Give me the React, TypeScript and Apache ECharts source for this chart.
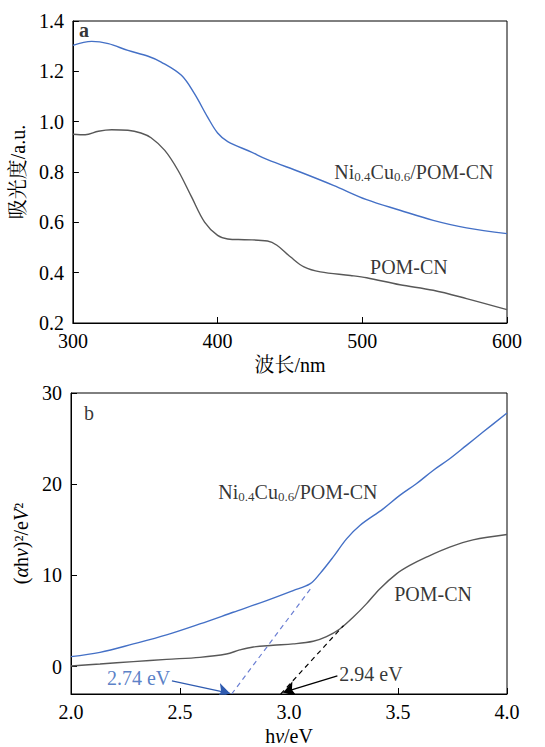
import React, { useEffect, useRef } from "react";
import * as echarts from "echarts";

// ---- Panel a: absorbance vs wavelength ----
const wlNiCu = [300, 313, 324.5, 338, 352, 361, 375, 384, 393, 400, 407, 423, 434.5, 457, 480, 503, 526, 549, 572, 600];
const absNiCu = [1.303, 1.319, 1.31, 1.283, 1.26, 1.237, 1.184, 1.111, 1.019, 0.955, 0.921, 0.88, 0.849, 0.8, 0.747, 0.69, 0.648, 0.608, 0.578, 0.555];
const wlPom = [300, 308.5, 317.6, 326.8, 338, 347, 354, 363.5, 372.6, 382, 391, 400, 407, 418.5, 434.5, 441, 450.5, 459.7, 471, 491.8, 503, 526, 549, 572, 600];
const absPom = [0.95, 0.948, 0.962, 0.968, 0.966, 0.955, 0.936, 0.886, 0.807, 0.701, 0.601, 0.548, 0.534, 0.531, 0.526, 0.509, 0.462, 0.423, 0.403, 0.389, 0.38, 0.352, 0.33, 0.297, 0.253];

// ---- Panel b: Tauc plot ----
const evNiCu = [2.0, 2.133, 2.286, 2.438, 2.591, 2.744, 2.897, 3.019, 3.096, 3.141, 3.202, 3.264, 3.325, 3.432, 3.508, 3.584, 3.661, 3.737, 3.814, 3.89, 4.0];
const taucNiCu = [1.1, 1.57, 2.49, 3.48, 4.68, 5.96, 7.24, 8.34, 9.07, 10.17, 12.0, 14.01, 15.48, 17.3, 18.77, 20.05, 21.51, 22.79, 24.26, 25.72, 27.8];
const evPom = [2.0, 2.133, 2.286, 2.438, 2.591, 2.713, 2.774, 2.836, 2.927, 3.019, 3.111, 3.172, 3.233, 3.294, 3.355, 3.416, 3.493, 3.554, 3.63, 3.737, 3.844, 4.0];
const taucPom = [0.07, 0.29, 0.55, 0.8, 1.02, 1.39, 1.83, 2.16, 2.34, 2.49, 2.78, 3.29, 4.13, 5.41, 6.88, 8.52, 10.17, 11.09, 12.0, 13.1, 13.9, 14.49];

// tangent (extrapolation) lines
const tangentNiCu = [[2.737, -3], [3.104, 8.7]];
const tangentPom = [[2.962, -3], [3.25, 4.5]];
// arrows: [start, end]
const arrowNiCu = [[2.463, -1.55], [2.729, -2.93]];
const arrowPom = [[3.222, -1.0], [2.974, -2.83]];

// tick labels
const xTicksA = [300, 400, 500, 600];
const yTicksA = [0.2, 0.4, 0.6, 0.8, 1.0, 1.2, 1.4];
const xTicksB = [2.0, 2.5, 3.0, 3.5, 4.0];
const yTicksB = [0, 10, 20, 30];

// text annotations: [x, y, text]
const labelsA = [
  [307.6, 1.364, "{b|a}"],
  [535.7, 0.8, "Ni{s|0.4}Cu{s|0.6}/POM-CN"],
  [532.2, 0.423, "POM-CN"],
];
const labelsB = [
  [2.083, 27.8, "b"],
  [3.041, 19.1, "Ni{s|0.4}Cu{s|0.6}/POM-CN"],
  [3.661, 8.0, "POM-CN"],
  [3.376, -0.77, "2.94 eV"],
];
const labelsBBlue = [[2.31, -1.2, "2.74 eV"]];

const BLUE = "#4470c6";
const GREY = "#585858";
const FONT = "Liberation Serif";
const CJK = "Liberation Serif, Noto Serif CJK SC, Noto Sans CJK SC";

const pair = (xs: number[], ys: number[]) => xs.map((x, i) => [x, ys[i]]);

const rich = {
  s: { fontSize: 13, fontFamily: FONT, color: "#000", verticalAlign: "bottom", padding: [8, 0, 0, 0] },
  b: { fontSize: 20, fontFamily: FONT, color: "#000", fontWeight: "bold" },
};

export default function App() {
  const ref = useRef<HTMLDivElement>(null);
  useEffect(() => {
    if (!ref.current) return;
    const chart = echarts.init(ref.current, null, { renderer: "svg" });
    const axisText = { color: "#000", fontSize: 20, fontFamily: FONT };
    const frame = { show: true, onZero: false, lineStyle: { color: "#000", width: 1 } };
    const tick = { show: true, inside: true, length: 6, lineStyle: { color: "#000" } };
    const italic = { i: { fontStyle: "italic", fontSize: 20, fontFamily: FONT, color: "#000" } };
    const labelSeries = (xi: number, data: any[], color: string) => ({
      type: "scatter",
      xAxisIndex: xi,
      yAxisIndex: xi,
      symbolSize: 0,
      silent: true,
      data,
      label: {
        show: true,
        position: "inside",
        formatter: (p: any) => p.data[2],
        color,
        fontSize: 20,
        fontFamily: FONT,
        rich: { ...rich, s: { ...rich.s, color } },
      },
      z: 10,
    });
    const curve = (xi: number, data: number[][], color: string) => ({
      type: "line", xAxisIndex: xi, yAxisIndex: xi, data, smooth: 0.35,
      showSymbol: false, lineStyle: { color, width: 1.4 },
    });
    chart.setOption({
      animation: false,
      backgroundColor: "#fff",
      textStyle: { fontFamily: FONT },
      grid: [
        { left: 71, top: 21, width: 436, height: 302, show: true, borderColor: "#000", borderWidth: 1 },
        { left: 71, top: 393, width: 436, height: 301, show: true, borderColor: "#000", borderWidth: 1 },
      ],
      xAxis: [
        {
          gridIndex: 0, type: "value", min: 300, max: 600, interval: 100,
          axisLine: frame, axisTick: tick, splitLine: { show: false },
          axisLabel: { ...axisText, margin: 8, customValues: xTicksA },
          name: "波长/nm", nameLocation: "middle", nameGap: 32,
          nameTextStyle: { color: "#000", fontSize: 20, fontFamily: CJK },
        },
        {
          gridIndex: 1, type: "value", min: 2, max: 4, interval: 0.5,
          axisLine: frame, axisTick: tick, splitLine: { show: false },
          axisLabel: { ...axisText, margin: 8, customValues: xTicksB, formatter: (v: number) => v.toFixed(1) },
          name: "h{i|ν}/eV", nameLocation: "middle", nameGap: 32,
          nameTextStyle: { color: "#000", fontSize: 20, fontFamily: FONT, rich: italic },
        },
      ],
      yAxis: [
        {
          gridIndex: 0, type: "value", min: 0.2, max: 1.4, interval: 0.2,
          axisLine: frame, axisTick: tick, splitLine: { show: false },
          axisLabel: { ...axisText, margin: 9, customValues: yTicksA, formatter: (v: number) => v.toFixed(1) },
          name: "吸光度/a.u.", nameLocation: "middle", nameGap: 43,
          nameTextStyle: { color: "#000", fontSize: 20, fontFamily: CJK },
        },
        {
          gridIndex: 1, type: "value", min: -3, max: 30,
          axisLine: frame, splitLine: { show: false },
          axisTick: { ...tick, customValues: yTicksB },
          axisLabel: { ...axisText, margin: 9, customValues: yTicksB },
          name: "({i|α}h{i|ν})²/e{i|V}²", nameLocation: "middle", nameGap: 31,
          nameTextStyle: { color: "#000", fontSize: 20, fontFamily: FONT, rich: italic },
        },
      ],
      series: [
        curve(0, pair(wlNiCu, absNiCu), BLUE),
        curve(0, pair(wlPom, absPom), GREY),
        curve(1, pair(evNiCu, taucNiCu), BLUE),
        curve(1, pair(evPom, taucPom), GREY),
        { type: "line", xAxisIndex: 1, yAxisIndex: 1, data: tangentNiCu, showSymbol: false, lineStyle: { color: "#6b7fd3", width: 1.2, type: [5, 4] } },
        { type: "line", xAxisIndex: 1, yAxisIndex: 1, data: tangentPom, showSymbol: false, lineStyle: { color: "#000", width: 1.2, type: [5, 4] } },
        {
          type: "lines", coordinateSystem: "cartesian2d", xAxisIndex: 1, yAxisIndex: 1,
          symbol: ["none", "arrow"], symbolSize: [0, 12],
          data: [{ coords: arrowNiCu, lineStyle: { color: "#2f5bb0" } }, { coords: arrowPom, lineStyle: { color: "#000" } }],
          lineStyle: { width: 1.3, opacity: 1 }, z: 5,
        },
        labelSeries(0, labelsA, "#000"),
        labelSeries(1, labelsB, "#000"),
        labelSeries(1, labelsBBlue, "#3060b8"),
      ],
    });
    return () => chart.dispose();
  }, []);
  return <div ref={ref} style={{ position: "absolute", left: 0, top: 0, width: 545, height: 747 }} />;
}
